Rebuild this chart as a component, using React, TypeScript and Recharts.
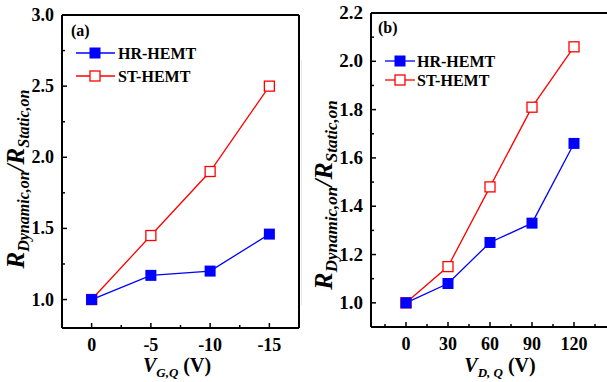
import { LineChart, Line, XAxis, YAxis, ReferenceLine, Legend } from "recharts";

const FONT = '"Liberation Serif", "Times New Roman", serif';

// panel (a): gate quiescent bias
const gateVoltages = [0, -5, -10, -15];
const hrGate = [1.0, 1.17, 1.2, 1.46];
const stGate = [1.0, 1.45, 1.9, 2.5];
const gateXTicks = [0, -5, -10, -15];
const gateXMinor = [-2.5, -7.5, -12.5];
const gateYTicks = [1.0, 1.5, 2.0, 2.5, 3.0];
const gateYMinor = [1.25, 1.75, 2.25, 2.75];

// panel (b): drain quiescent bias
const drainVoltages = [0, 30, 60, 90, 120];
const hrDrain = [1.0, 1.08, 1.25, 1.33, 1.66];
const stDrain = [1.0, 1.15, 1.48, 1.81, 2.06];
const drainXTicks = [0, 30, 60, 90, 120];
const drainXMinor = [-15, 15, 45, 75, 105, 135];
const drainYTicks = [1.0, 1.2, 1.4, 1.6, 1.8, 2.0, 2.2];
const drainYMinor = [1.1, 1.3, 1.5, 1.7, 1.9, 2.1];

const seriesNames = ["HR-HEMT", "ST-HEMT"];
const BLUE = "#0000ff";
const RED = "#ff0000";

const gateData = gateVoltages.map((v, i) => ({ v, hr: hrGate[i], st: stGate[i] }));
const drainData = drainVoltages.map((v, i) => ({ v, hr: hrDrain[i], st: stDrain[i] }));

const squareDot = (color: string, filled: boolean, size: number) => (props: any) => {
  const { cx, cy, index } = props;
  if (cx == null || cy == null) return <g key={index} />;
  return (
    <rect
      key={index}
      x={cx - size / 2}
      y={cy - size / 2}
      width={size}
      height={size}
      fill={filled ? color : "#ffffff"}
      stroke={color}
      strokeWidth={filled ? 0 : 1.3}
    />
  );
};

const makeXTick = (major: number[], fontSize: number) => (props: any) => {
  const { x, y, payload } = props;
  const isMajor = major.includes(payload.value);
  return (
    <g>
      <line x1={x} x2={x} y1={y} y2={y - (isMajor ? 5 : 3)} stroke="#000" strokeWidth={1.5} />
      {isMajor && (
        <text x={x} y={y + 23} textAnchor="middle" fontFamily={FONT} fontWeight="bold" fontSize={fontSize} fill="#000">
          {payload.value}
        </text>
      )}
    </g>
  );
};

const makeYTick = (major: number[], fontSize: number) => (props: any) => {
  const { x, y, payload } = props;
  const isMajor = major.includes(payload.value);
  return (
    <g>
      <line x1={x} x2={x + (isMajor ? 5 : 3)} y1={y} y2={y} stroke="#000" strokeWidth={1.5} />
      {isMajor && (
        <text x={x - 8} y={y + 6} textAnchor="end" fontFamily={FONT} fontWeight="bold" fontSize={fontSize} fill="#000">
          {Number(payload.value).toFixed(1)}
        </text>
      )}
    </g>
  );
};

type OverlayCfg = {
  w: number;
  h: number;
  tag: string;
  tagX: number;
  tagY: number;
  lx1: number;
  lx2: number;
  mx: number;
  tx: number;
  rows: number[];
  xTitleX: number;
  xTitleY: number;
  xSub: string;
  yTitleX: number;
  yTitleY: number;
  big: number;
  small: number;
};

function Overlay({ c }: { c: OverlayCfg }) {
  const colors = [BLUE, RED];
  return (
    <svg width={c.w} height={c.h} style={{ display: "block" }}>
      <text x={c.tagX} y={c.tagY} fontFamily={FONT} fontWeight="bold" fontSize={16} fill="#000">
        {c.tag}
      </text>
      {seriesNames.map((name, i) => (
        <g key={name}>
          <line x1={c.lx1} x2={c.lx2} y1={c.rows[i]} y2={c.rows[i]} stroke={colors[i]} strokeWidth={1.3} />
          {squareDot(colors[i], i === 0, i === 0 ? 11 : 10)({ cx: c.mx, cy: c.rows[i], index: i })}
          <text x={c.tx} y={c.rows[i] + 6} fontFamily={FONT} fontWeight="bold" fontSize={16} fill="#000">
            {name}
          </text>
        </g>
      ))}
      <text
        x={c.xTitleX}
        y={c.xTitleY}
        textAnchor="middle"
        fontFamily={FONT}
        fontWeight="bold"
        fontSize={20}
        fill="#000"
      >
        <tspan fontStyle="italic">V</tspan>
        <tspan fontStyle="italic" fontSize={13} dy={5}>
          {c.xSub}
        </tspan>
        <tspan dy={-5}> (V)</tspan>
      </text>
      <text
        transform={`translate(${c.yTitleX},${c.yTitleY}) rotate(-90)`}
        textAnchor="middle"
        fontFamily={FONT}
        fontWeight="bold"
        fontStyle="italic"
        fill="#000"
      >
        <tspan fontSize={c.big}>R</tspan>
        <tspan fontSize={c.small} dy={5}>
          Dynamic,on
        </tspan>
        <tspan fontSize={c.big} dy={-5}>
          /R
        </tspan>
        <tspan fontSize={c.small} dy={5}>
          Static,on
        </tspan>
      </text>
    </svg>
  );
}

const axisLine = { stroke: "#000", strokeWidth: 2 };

export default function App() {
  const cfgA: OverlayCfg = {
    w: 300,
    h: 382,
    tag: "(a)",
    tagX: 71,
    tagY: 36,
    lx1: 76,
    lx2: 115,
    mx: 95,
    tx: 118,
    rows: [53, 76],
    xTitleX: 177,
    xTitleY: 372,
    xSub: "G,Q",
    yTitleX: 24,
    yTitleY: 179,
    big: 25,
    small: 16,
  };
  const cfgB: OverlayCfg = {
    w: 320,
    h: 382,
    tag: "(b)",
    tagX: 78,
    tagY: 33,
    lx1: 85,
    lx2: 115,
    mx: 100,
    tx: 117,
    rows: [61, 80],
    xTitleX: 200,
    xTitleY: 372,
    xSub: "D, Q",
    yTitleX: 32,
    yTitleY: 195,
    big: 26,
    small: 17,
  };

  return (
    <div style={{ position: "absolute", left: 0, top: 0, width: 607, height: 382, overflow: "hidden", background: "#fff" }}>
      <div style={{ position: "absolute", left: 301, top: 60, width: 1, height: 245, background: "#e8e8e8" }} />
      <div style={{ position: "absolute", left: 0, top: 0 }}>
        <LineChart width={300} height={382} data={gateData} margin={{ top: 15, right: 1, bottom: 53, left: 61 }}>
          <XAxis
            type="number"
            dataKey="v"
            domain={[-17.5, 2.5]}
            reversed
            ticks={[...gateXTicks, ...gateXMinor]}
            interval={0}
            height={1}
            tickSize={0}
            tickMargin={0}
            tickLine={false}
            axisLine={axisLine}
            tick={makeXTick(gateXTicks, 18)}
          />
          <YAxis
            type="number"
            domain={[0.8, 3.0]}
            ticks={[...gateYTicks, ...gateYMinor]}
            interval={0}
            width={1}
            tickSize={0}
            tickMargin={0}
            tickLine={false}
            axisLine={axisLine}
            tick={makeYTick(gateYTicks, 18)}
          />
          <ReferenceLine y={3.0} stroke="#000" strokeWidth={2} />
          <ReferenceLine x={-17.5} stroke="#000" strokeWidth={2} />
          <Line
            dataKey="st"
            name={seriesNames[1]}
            stroke={RED}
            strokeWidth={1.3}
            dot={squareDot(RED, false, 10)}
            isAnimationActive={false}
          />
          <Line
            dataKey="hr"
            name={seriesNames[0]}
            stroke={BLUE}
            strokeWidth={1.3}
            dot={squareDot(BLUE, true, 11)}
            isAnimationActive={false}
          />
          <Legend
            layout="horizontal"
            verticalAlign="middle"
            align="center"
            wrapperStyle={{ left: 0, top: 0, width: 300, height: 382, pointerEvents: "none" }}
            content={() => <Overlay c={cfgA} />}
          />
        </LineChart>
      </div>
      <div style={{ position: "absolute", left: 300, top: 0 }}>
        <LineChart width={320} height={382} data={drainData} margin={{ top: 13, right: 11, bottom: 54, left: 70 }}>
          <XAxis
            type="number"
            dataKey="v"
            domain={[-25, 145]}
            ticks={[...drainXTicks, ...drainXMinor]}
            interval={0}
            height={1}
            tickSize={0}
            tickMargin={0}
            tickLine={false}
            axisLine={axisLine}
            tick={makeXTick(drainXTicks, 18)}
          />
          <YAxis
            type="number"
            domain={[0.9, 2.2]}
            ticks={[...drainYTicks, ...drainYMinor]}
            interval={0}
            width={1}
            tickSize={0}
            tickMargin={0}
            tickLine={false}
            axisLine={axisLine}
            tick={makeYTick(drainYTicks, 19)}
          />
          <ReferenceLine y={2.2} stroke="#000" strokeWidth={2} />
          <ReferenceLine x={145} stroke="#000" strokeWidth={2} />
          <Line
            dataKey="st"
            name={seriesNames[1]}
            stroke={RED}
            strokeWidth={1.3}
            dot={squareDot(RED, false, 10)}
            isAnimationActive={false}
          />
          <Line
            dataKey="hr"
            name={seriesNames[0]}
            stroke={BLUE}
            strokeWidth={1.3}
            dot={squareDot(BLUE, true, 11)}
            isAnimationActive={false}
          />
          <Legend
            layout="horizontal"
            verticalAlign="middle"
            align="center"
            wrapperStyle={{ left: 0, top: 0, width: 320, height: 382, pointerEvents: "none" }}
            content={() => <Overlay c={cfgB} />}
          />
        </LineChart>
      </div>
    </div>
  );
}
